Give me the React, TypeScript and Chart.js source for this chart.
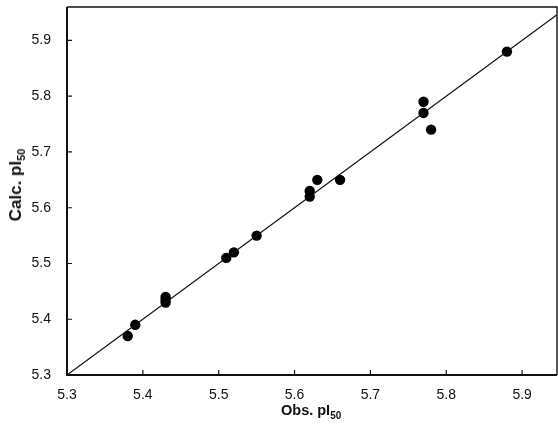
import React, { useEffect, useRef } from "react";
import { Chart, registerables } from "chart.js";

Chart.register(...registerables);

const obsValues = [5.38, 5.39, 5.43, 5.43, 5.43, 5.51, 5.52, 5.55, 5.62, 5.62, 5.63, 5.66, 5.77, 5.77, 5.78, 5.88];
const calcValues = [5.37, 5.39, 5.44, 5.435, 5.43, 5.51, 5.52, 5.55, 5.62, 5.63, 5.65, 5.65, 5.79, 5.77, 5.74, 5.88];
const identityLine = [5.3, 5.946];
const xTicks = [5.3, 5.4, 5.5, 5.6, 5.7, 5.8, 5.9];
const yTicks = [5.3, 5.4, 5.5, 5.6, 5.7, 5.8, 5.9];
const xLabel = "Obs. pI";
const yLabel = "Calc. pI";
const labelSub = "50";

const framePlugin = {
  id: "frame",
  afterDraw(chart: any) {
    const { ctx, chartArea } = chart;
    const { left, right, top, bottom } = chartArea;
    ctx.save();
    ctx.strokeStyle = "#111";
    ctx.lineWidth = 1.4;
    ctx.beginPath();
    ctx.moveTo(left, top);
    ctx.lineTo(right, top);
    ctx.lineTo(right, bottom);
    ctx.stroke();
    ctx.lineWidth = 2;
    ctx.beginPath();
    ctx.moveTo(left, top);
    ctx.lineTo(left, bottom);
    ctx.lineTo(right, bottom);
    ctx.stroke();
    ctx.lineWidth = 1.2;
    const xs = chart.scales.x;
    const ys = chart.scales.y;
    ctx.beginPath();
    xTicks.forEach((v) => {
      if (v === xTicks[0]) return;
      const px = xs.getPixelForValue(v);
      ctx.moveTo(px, bottom);
      ctx.lineTo(px, bottom - 5);
    });
    yTicks.forEach((v) => {
      if (v === yTicks[0]) return;
      const py = ys.getPixelForValue(v);
      ctx.moveTo(left, py);
      ctx.lineTo(left + 5, py);
    });
    ctx.stroke();
    ctx.restore();
  },
};

export default function App() {
  const ref = useRef<HTMLCanvasElement>(null);
  useEffect(() => {
    if (!ref.current) return;
    const chart = new Chart(ref.current, {
      type: "scatter",
      data: {
        datasets: [
          {
            type: "line",
            data: identityLine.map((v) => ({ x: v, y: v })),
            borderColor: "#111",
            borderWidth: 1.2,
            pointRadius: 0,
            fill: false,
          } as any,
          {
            type: "scatter",
            data: obsValues.map((v, i) => ({ x: v, y: calcValues[i] })),
            backgroundColor: "#000",
            borderWidth: 0,
            pointRadius: 5.2,
          },
        ],
      },
      options: {
        animation: false,
        responsive: false,
        layout: { autoPadding: false, padding: { top: 7, right: 1, left: 0, bottom: 0 } },
        plugins: { legend: { display: false }, tooltip: { enabled: false } },
        scales: {
          x: {
            type: "linear",
            min: 5.3,
            max: 5.946,
            grid: { display: false },
            border: { display: false },
            afterBuildTicks: (s: any) => {
              s.ticks = xTicks.map((v) => ({ value: v }));
            },
            afterFit: (s: any) => {
              s.height = 62;
              s.paddingLeft = 0;
              s.paddingRight = 0;
            },
            ticks: {
              color: "#111",
              padding: 4,
              maxRotation: 0,
              font: { family: "Liberation Sans, Arial", size: 14 },
              callback: (v: any) => Number(v).toFixed(1),
            },
          },
          y: {
            type: "linear",
            min: 5.3,
            max: 5.96,
            grid: { display: false },
            border: { display: false },
            afterBuildTicks: (s: any) => {
              s.ticks = yTicks.map((v) => ({ value: v }));
            },
            afterFit: (s: any) => {
              s.width = 67;
              s.paddingTop = 0;
              s.paddingBottom = 0;
            },
            ticks: {
              color: "#111",
              padding: 8,
              font: { family: "Liberation Sans, Arial", size: 14 },
              callback: (v: any) => Number(v).toFixed(1),
            },
          },
        },
      },
      plugins: [framePlugin],
    });
    return () => chart.destroy();
  }, []);

  const labelStyle: React.CSSProperties = {
    position: "absolute",
    fontFamily: "Liberation Sans, Arial, sans-serif",
    fontWeight: "bold",
    color: "#111",
    whiteSpace: "nowrap",
    lineHeight: 1,
  };

  return (
    <div style={{ position: "absolute", left: 0, top: 0, width: 558, height: 437, background: "#fff" }}>
      <canvas ref={ref} width={558} height={437} style={{ position: "absolute", left: 0, top: 0 }} />
      <div style={{ ...labelStyle, fontSize: 14.5, left: 281, top: 403 }}>
        {xLabel}
        <span style={{ fontSize: 10, verticalAlign: "-4px" }}>{labelSub}</span>
      </div>
      <div
        style={{
          ...labelStyle,
          fontSize: 17,
          left: 17,
          top: 185,
          transform: "translate(-50%, -50%) rotate(-90deg)",
        }}
      >
        {yLabel}
        <span style={{ fontSize: 11, verticalAlign: "-4px" }}>{labelSub}</span>
      </div>
    </div>
  );
}
